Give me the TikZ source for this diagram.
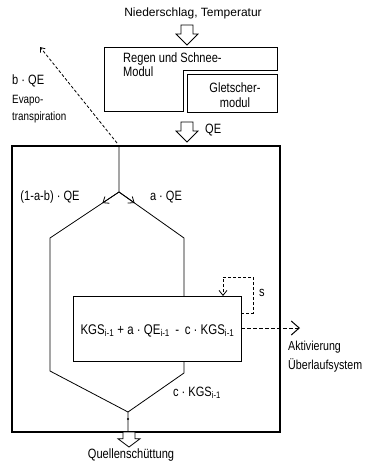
\documentclass[tikz,border=0pt]{standalone}
\usepackage{fontspec}
\setmainfont{Liberation Sans}
\newfontfamily\cond[FakeStretch=0.82]{Liberation Sans}
\usetikzlibrary{arrows.meta,calc}
\begin{document}
\begin{tikzpicture}[x=1pt,y=-1pt,
  txt/.style={inner sep=0pt,font=\cond\fontsize{13.5}{14}\selectfont},
  thin line/.style={line width=0.8pt},
  dsh/.style={line width=0.8pt,dash pattern=on 3pt off 2pt},
  vtip/.style={-{Straight Barb[length=5pt,width=8pt,line width=0.8pt]}},
  bigtip/.style={-{Straight Barb[length=8pt,width=14pt,line width=1pt]}},
  blockarrow/.pic={\draw[line width=0.8pt,fill=white] (-6,0) -- (6,0) -- (6,#1*0.45) -- (11,#1*0.45) -- (0,#1) -- (-11,#1*0.45) -- (-6,#1*0.45) -- cycle;},
]
\useasboundingbox (0,0) rectangle (368,475);
% top input
\node[txt,font=\fontsize{12}{14}\selectfont] (ns) at (193,13) {Niederschlag, Temperatur};
\pic at (187,25) {blockarrow=20};
% Regen und Schnee module (L-shaped)
\draw[thin line] (104,47) -- (277,47) -- (277,70) -- (183,70) -- (183,111) -- (104,111) -- cycle;
\node[txt,anchor=north west,align=left] (rs) at (123,53) {Regen und Schnee-\\Modul};
\node[draw,thin line,minimum width=90pt,minimum height=38pt,inner sep=0pt] (gl) at (232,93) {};
\node[txt,align=center,font=\cond\fontsize{13.5}{15}\selectfont] (gltxt) at (235,95.5) {Gletscher-\\modul};
% QE arrow
\pic at (187,122) {blockarrow=20};
\node[txt,anchor=west] (qe) at (205,130) {QE};
% evapotranspiration
\coordinate (evs) at (117,143);
\coordinate (eve) at (40,47);
\draw[dsh,-{Straight Barb[length=4pt,width=6pt,line width=0.8pt]}] (evs) -- (eve);
\node[txt,anchor=west] (bqe) at (12,81) {b · QE};
\node[txt,anchor=north west,align=left,font=\cond\fontsize{12}{17}\selectfont] (evap) at (12,95) {Evapo-\\transpiration};
% big box
\node[draw,line width=2.5pt,minimum width=268pt,minimum height=286pt,inner sep=0pt] (big) at (146,289) {};
% KGS box
\node[draw,thin line,minimum width=168pt,minimum height=65pt,inner sep=0pt] (kgs) at (157,328.5) {};
\node[txt,font=\cond\fontsize{14}{14}\selectfont] (kgstxt) at (157.5,331) {KGS\textsubscript{i-1} + a · QE\textsubscript{i-1} \,-\, c · KGS\textsubscript{i-1}};
% flow lines
\coordinate (top) at (119,146);
\coordinate (split) at (119,192);
\coordinate (lk) at (50,238);
\coordinate (lb) at (50,371);
\coordinate (rk) at (184,238);
\coordinate (rt) at (184,296);
\coordinate (rb) at (184,361);
\coordinate (rb2) at (184,373);
\coordinate (join) at (128,412);
\coordinate (out) at (128,432);
\draw[thin line] (top) -- (split) -- (lk) -- (lb) -- (join) -- (out);
\draw[thin line] (split) -- (rk) -- (rt);
\draw[thin line] (rb) -- (rb2) -- (join);
\draw[thin line,vtip] (split) -- ($(split)!0.24!(lk)$);
\draw[thin line,vtip] (split) -- ($(split)!0.24!(rk)$);
\fill (128,419) circle (1.2pt);
\node[txt] (lq) at (50,197) {(1-a-b) · QE};
\node[txt] (rq) at (166,197) {a · QE};
\node[txt] (ck) at (197,393) {c · KGS\textsubscript{i-1}};
% storage loop
\coordinate (s1) at (241,313);
\coordinate (s2) at (253,313);
\coordinate (s3) at (253,277);
\coordinate (s4) at (223,277);
\coordinate (s5) at (223,296);
\draw[dsh,vtip] (s1) -- (s2) -- (s3) -- (s4) -- (s5);
\node[txt] (s) at (262,293) {s};
% overflow
\coordinate (ov1) at (241,328);
\coordinate (ov2) at (300,328);
\draw[line width=1pt,dash pattern=on 4pt off 2pt,bigtip] (ov1) -- (ov2);
\node[txt,anchor=north west,align=left,font=\cond\fontsize{13}{19}\selectfont] (akt) at (288,341) {Aktivierung\\Überlaufsystem};
% output
\pic at (129,432) {blockarrow=15};
\node[txt] (quell) at (131,455) {Quellenschüttung};
\end{tikzpicture}
\end{document}
